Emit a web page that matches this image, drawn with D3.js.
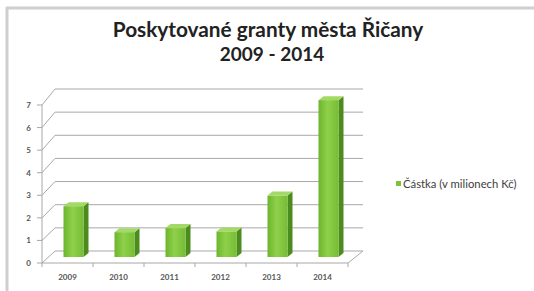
<!DOCTYPE html>
<html><head><meta charset="utf-8">
<script src="https://cdn.jsdelivr.net/npm/d3@7"></script>
<style>
html,body{margin:0;padding:0;background:#fff;}
svg{display:block;}
text{font-family:Lato,"Open Sans",sans-serif;}
</style></head>
<body>
<svg id="c" width="534" height="291"></svg>
<script>
const titleLines = ["Poskytované granty města Řičany", "2009 - 2014"];
const years = ["2009", "2010", "2011", "2012", "2013", "2014"];
const values = [2.25, 1.1, 1.28, 1.13, 2.72, 6.95];
const yTicks = [0, 1, 2, 3, 4, 5, 6, 7];
const seriesName = "Částka (v milionech Kč)";

const svg = d3.select("#c");

// frame border (top & left)
svg.append("line").attr("x1",6).attr("x2",534).attr("y1",8).attr("y2",8)
  .attr("stroke","#cfcfcf").attr("stroke-width",3);
svg.append("line").attr("x1",7).attr("x2",7).attr("y1",7).attr("y2",291)
  .attr("stroke","#cfcfcf").attr("stroke-width",3);

// title
svg.selectAll("text.title").data(titleLines).enter().append("text")
  .attr("class","title")
  .attr("x",(d,i)=> i===0 ? 268 : 272)
  .attr("y",(d,i)=> i===0 ? 37 : 61)
  .attr("text-anchor","middle")
  .attr("font-size",(d,i)=> i===0 ? 20.8 : 19)
  .attr("font-weight","bold").attr("fill","#222")
  .text(d=>d);

// scales
const x = d3.scaleBand().domain(years).range([42, 348]).padding(0);
const yFront = d3.scaleLinear().domain([0, 7]).range([263, 105]);
const yBack = d3.scaleLinear().domain([0, 7]).range([251, 89]);
const yBar = d3.scaleLinear().domain([0, 7]).range([257, 99]);
const backX0 = 55, backX1 = 363;
const frontX0 = x.range()[0], frontX1 = x.range()[1];

// gridlines (side wall diagonal + back wall horizontal)
const grid = svg.append("g");
yTicks.forEach(t => {
  grid.append("path")
    .attr("d", `M${frontX0},${yFront(t)}L${backX0},${yBack(t)}L${backX1},${yBack(t)}`)
    .attr("fill","none").attr("stroke","#a8a8a8").attr("stroke-width",1);
});
grid.append("path")
  .attr("d", `M${frontX0},${yFront(0)}L${frontX1},${yFront(0)}L${backX1},${yBack(0)}`)
  .attr("fill","none").attr("stroke","#a8a8a8").attr("stroke-width",1);
grid.append("line").attr("x1",frontX0).attr("x2",frontX0)
  .attr("y1",yFront(0)).attr("y2",yFront(7)).attr("stroke","#a8a8a8");

// y ticks & labels
const yax = svg.append("g");
yTicks.forEach(t => {
  yax.append("line").attr("x1",37).attr("x2",frontX0).attr("y1",yFront(t)).attr("y2",yFront(t))
    .attr("stroke","#a8a8a8");
  yax.append("text").attr("x",31).attr("y",yFront(t)+3).attr("text-anchor","end")
    .attr("font-size",8).attr("font-weight","bold").attr("fill","#555").text(t);
});
years.forEach(y => {
  svg.append("line").attr("x1",x(y)).attr("x2",x(y)).attr("y1",yFront(0)).attr("y2",yFront(0)+4)
    .attr("stroke","#a8a8a8");
});
svg.append("line").attr("x1",frontX1).attr("x2",frontX1).attr("y1",yFront(0)).attr("y2",yFront(0)+4)
  .attr("stroke","#a8a8a8");

// x labels
svg.selectAll("text.xl").data(years).enter().append("text")
  .attr("class","xl")
  .attr("x", d => x(d) + x.bandwidth()/2)
  .attr("y", 280)
  .attr("text-anchor","middle").attr("font-size",8).attr("font-weight","bold").attr("fill","#555")
  .text(d=>d);

// gradient
const defs = svg.append("defs");
const g = defs.append("linearGradient").attr("id","front").attr("x1","0").attr("x2","1").attr("y1","0").attr("y2","0");
g.append("stop").attr("offset","0%").attr("stop-color","#6cb52c");
g.append("stop").attr("offset","45%").attr("stop-color","#8fd04a");
g.append("stop").attr("offset","100%").attr("stop-color","#76bd34");

// bars
const bw = 20, sd = 5, td = 4, shift = 6;
const bars = svg.append("g");
years.forEach((yr, i) => {
  const cx = x(yr) + x.bandwidth()/2 + shift;
  const x0 = cx - bw/2, x1 = cx + bw/2;
  const yb = yBar(0), yt = yBar(values[i]);
  bars.append("path")
    .attr("d", `M${x1},${yb}L${x1+sd},${yb-td}L${x1+sd},${yt-td}L${x1},${yt}Z`)
    .attr("fill","#4c8c1e");
  bars.append("path")
    .attr("d", `M${x0},${yt}L${x0+sd},${yt-td}L${x1+sd},${yt-td}L${x1},${yt}Z`)
    .attr("fill","#a3da66");
  bars.append("rect").attr("x",x0).attr("y",yt).attr("width",bw).attr("height",yb-yt)
    .attr("fill","url(#front)");
});

// legend
svg.append("rect").attr("x",396).attr("y",181).attr("width",5).attr("height",5).attr("fill","#7cc23c");
svg.append("text").attr("x",403).attr("y",187.5).attr("font-size",11.3).attr("fill","#404040").text(seriesName);
</script>
</body></html>
